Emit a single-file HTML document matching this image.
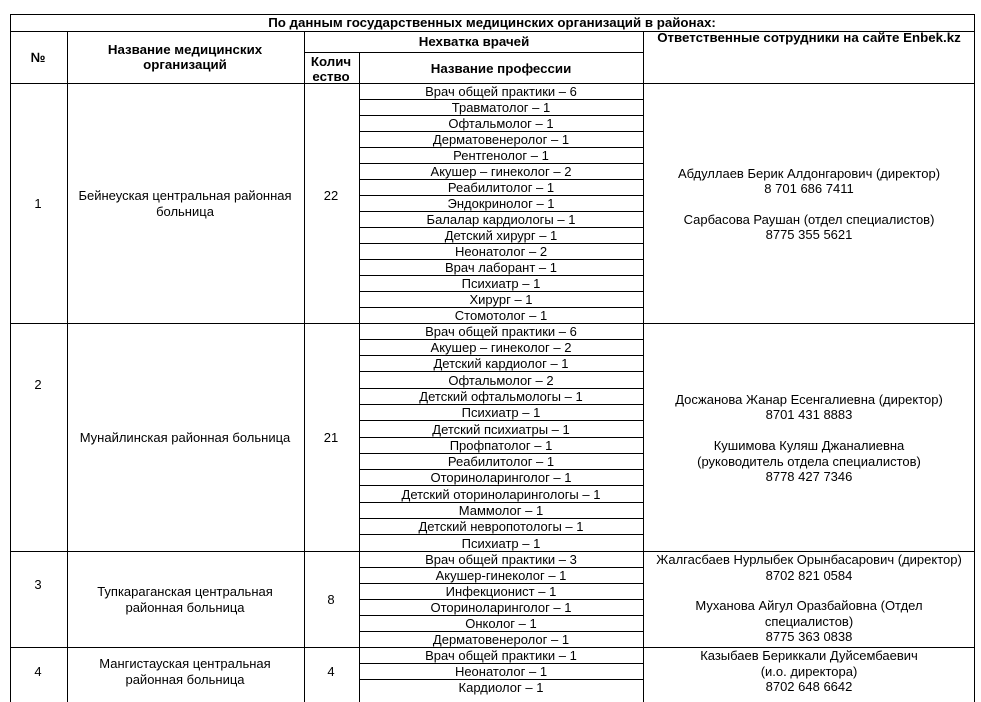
<!DOCTYPE html>
<html><head><meta charset="utf-8"><style>
html,body{margin:0;padding:0;background:#fff;width:981px;height:702px;overflow:hidden}
svg text{font-family:"Liberation Sans",Arial,sans-serif;font-size:13px;fill:#000}
.b{font-weight:bold;font-size:13.3px}
</style></head><body>
<svg width="981" height="702" viewBox="0 0 981 702" xmlns="http://www.w3.org/2000/svg">
<g stroke="#000" stroke-width="1" fill="none" shape-rendering="crispEdges">
<line x1="10" y1="14.5" x2="975" y2="14.5"/>
<line x1="10" y1="31.5" x2="975" y2="31.5"/>
<line x1="304" y1="52.5" x2="643" y2="52.5"/>
<line x1="10" y1="83.5" x2="975" y2="83.5"/>
<line x1="10.5" y1="14" x2="10.5" y2="702"/>
<line x1="974.5" y1="14" x2="974.5" y2="702"/>
<line x1="67.5" y1="31" x2="67.5" y2="702"/>
<line x1="304.5" y1="31" x2="304.5" y2="702"/>
<line x1="359.5" y1="52" x2="359.5" y2="702"/>
<line x1="643.5" y1="31" x2="643.5" y2="702"/>
<line x1="10" y1="323.5" x2="975" y2="323.5"/>
<line x1="10" y1="551.5" x2="975" y2="551.5"/>
<line x1="10" y1="647.5" x2="975" y2="647.5"/>
<g>
<line x1="359" y1="99.5" x2="643" y2="99.5"/><line x1="359" y1="115.5" x2="643" y2="115.5"/><line x1="359" y1="131.5" x2="643" y2="131.5"/><line x1="359" y1="147.5" x2="643" y2="147.5"/><line x1="359" y1="163.5" x2="643" y2="163.5"/><line x1="359" y1="179.5" x2="643" y2="179.5"/><line x1="359" y1="195.5" x2="643" y2="195.5"/><line x1="359" y1="211.5" x2="643" y2="211.5"/><line x1="359" y1="227.5" x2="643" y2="227.5"/><line x1="359" y1="243.5" x2="643" y2="243.5"/><line x1="359" y1="259.5" x2="643" y2="259.5"/><line x1="359" y1="275.5" x2="643" y2="275.5"/><line x1="359" y1="291.5" x2="643" y2="291.5"/><line x1="359" y1="307.5" x2="643" y2="307.5"/>
<line x1="359" y1="339.5" x2="643" y2="339.5"/><line x1="359" y1="355.5" x2="643" y2="355.5"/><line x1="359" y1="371.5" x2="643" y2="371.5"/><line x1="359" y1="388.5" x2="643" y2="388.5"/><line x1="359" y1="404.5" x2="643" y2="404.5"/><line x1="359" y1="420.5" x2="643" y2="420.5"/><line x1="359" y1="437.5" x2="643" y2="437.5"/><line x1="359" y1="453.5" x2="643" y2="453.5"/><line x1="359" y1="469.5" x2="643" y2="469.5"/><line x1="359" y1="485.5" x2="643" y2="485.5"/><line x1="359" y1="502.5" x2="643" y2="502.5"/><line x1="359" y1="518.5" x2="643" y2="518.5"/><line x1="359" y1="534.5" x2="643" y2="534.5"/>
<line x1="359" y1="567.5" x2="643" y2="567.5"/><line x1="359" y1="583.5" x2="643" y2="583.5"/><line x1="359" y1="599.5" x2="643" y2="599.5"/><line x1="359" y1="615.5" x2="643" y2="615.5"/><line x1="359" y1="631.5" x2="643" y2="631.5"/>
<line x1="359" y1="663.5" x2="643" y2="663.5"/><line x1="359" y1="679.5" x2="643" y2="679.5"/>
</g>
</g>
<g text-anchor="middle">
<text class="b" x="492" y="27">По данным государственных медицинских организаций в районах:</text>
<text class="b" x="38" y="62">№</text>
<text class="b" x="185" y="54">Название медицинских</text>
<text class="b" x="185" y="69">организаций</text>
<text class="b" x="474" y="46">Нехватка врачей</text>
<text class="b" x="809" y="42">Ответственные сотрудники на сайте Enbek.kz</text>
<text class="b" x="331" y="66">Колич</text>
<text class="b" x="331" y="81">ество</text>
<text class="b" x="501" y="73">Название профессии</text>

<text x="38" y="208">1</text>
<text x="185" y="200">Бейнеуская центральная районная</text>
<text x="185" y="216">больница</text>
<text x="331" y="200">22</text>
<text x="501" y="96">Врач общей практики – 6</text>
<text x="501" y="112">Травматолог – 1</text>
<text x="501" y="128">Офтальмолог – 1</text>
<text x="501" y="144">Дерматовенеролог – 1</text>
<text x="501" y="160">Рентгенолог – 1</text>
<text x="501" y="176">Акушер – гинеколог – 2</text>
<text x="501" y="192">Реабилитолог – 1</text>
<text x="501" y="208">Эндокринолог – 1</text>
<text x="501" y="224">Балалар кардиологы – 1</text>
<text x="501" y="240">Детский хирург – 1</text>
<text x="501" y="256">Неонатолог – 2</text>
<text x="501" y="272">Врач лаборант – 1</text>
<text x="501" y="288">Психиатр – 1</text>
<text x="501" y="304">Хирург – 1</text>
<text x="501" y="320">Стомотолог – 1</text>
<text x="809" y="178">Абдуллаев Берик Алдонгарович (директор)</text>
<text x="809" y="193">8 701 686 7411</text>
<text x="809" y="224">Сарбасова Раушан  (отдел специалистов)</text>
<text x="809" y="239">8775 355 5621</text>

<text x="38" y="389">2</text>
<text x="185" y="442">Мунайлинская районная больница</text>
<text x="331" y="442">21</text>
<text x="501" y="336">Врач общей практики – 6</text>
<text x="501" y="352">Акушер – гинеколог – 2</text>
<text x="501" y="368">Детский кардиолог – 1</text>
<text x="501" y="385">Офтальмолог – 2</text>
<text x="501" y="401">Детский офтальмологы – 1</text>
<text x="501" y="417">Психиатр – 1</text>
<text x="501" y="434">Детский психиатры – 1</text>
<text x="501" y="450">Профпатолог – 1</text>
<text x="501" y="466">Реабилитолог – 1</text>
<text x="501" y="482">Оториноларинголог – 1</text>
<text x="501" y="499">Детский оториноларингологы – 1</text>
<text x="501" y="515">Маммолог – 1</text>
<text x="501" y="531">Детский невропотологы – 1</text>
<text x="501" y="548">Психиатр – 1</text>
<text x="809" y="404">Досжанова Жанар Есенгалиевна (директор)</text>
<text x="809" y="419">8701 431 8883</text>
<text x="809" y="450">Кушимова Куляш Джаналиевна</text>
<text x="809" y="466">(руководитель отдела специалистов)</text>
<text x="809" y="481">8778 427 7346</text>

<text x="38" y="589">3</text>
<text x="185" y="596">Тупкараганская центральная</text>
<text x="185" y="612">районная больница</text>
<text x="331" y="604">8</text>
<text x="501" y="564">Врач общей практики – 3</text>
<text x="501" y="580">Акушер-гинеколог – 1</text>
<text x="501" y="596">Инфекционист – 1</text>
<text x="501" y="612">Оториноларинголог – 1</text>
<text x="501" y="628">Онколог – 1</text>
<text x="501" y="644">Дерматовенеролог – 1</text>
<text x="809" y="564">Жалгасбаев Нурлыбек Орынбасарович (директор)</text>
<text x="809" y="580">8702 821 0584</text>
<text x="809" y="610">Муханова Айгул Оразбайовна  (Отдел</text>
<text x="809" y="626">специалистов)</text>
<text x="809" y="641">8775 363 0838</text>

<text x="38" y="676">4</text>
<text x="185" y="668">Мангистауская центральная</text>
<text x="185" y="684">районная больница</text>
<text x="331" y="676">4</text>
<text x="501" y="660">Врач общей практики – 1</text>
<text x="501" y="676">Неонатолог – 1</text>
<text x="501" y="692">Кардиолог – 1</text>
<text x="809" y="660">Казыбаев Бериккали Дуйсембаевич</text>
<text x="809" y="676">(и.о. директора)</text>
<text x="809" y="691">8702 648 6642</text>
</g>
</svg>
</body></html>
